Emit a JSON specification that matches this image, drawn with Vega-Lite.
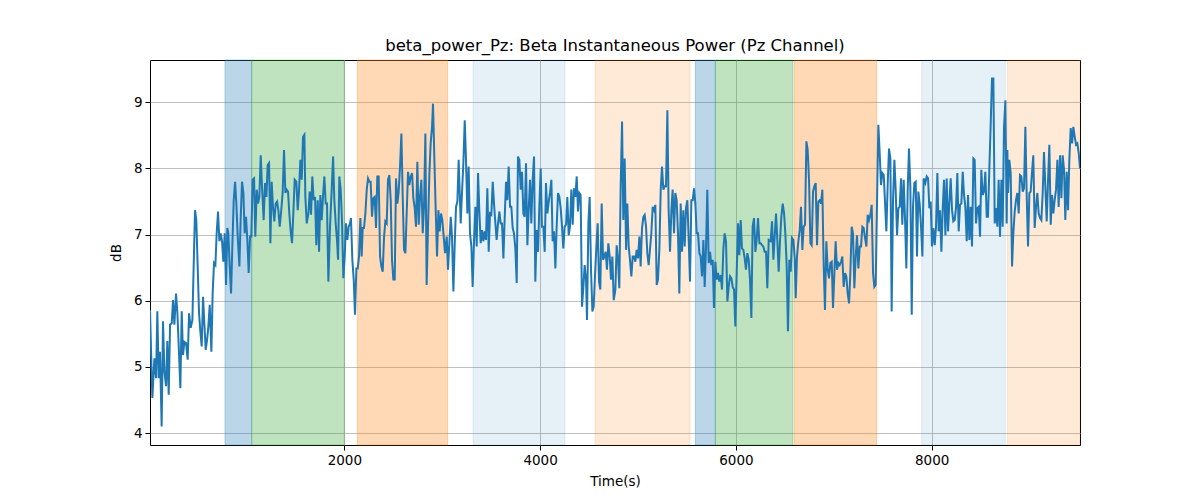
{
  "$schema": "https://vega.github.io/schema/vega-lite/v6.json",
  "description": "Beta instantaneous power on the Pz channel with shaded event periods.",
  "width": 930,
  "height": 385,
  "autosize": {"type": "none"},
  "padding": {"left": 150, "top": 60, "right": 120, "bottom": 55},
  "background": "white",
  "config": {
    "font": "DejaVu Sans",
    "view": {"stroke": "black", "strokeWidth": 1},
    "axis": {
      "domain": false,
      "grid": true,
      "gridColor": "#b0b0b0",
      "gridWidth": 0.8,
      "tickColor": "black",
      "tickSize": 5,
      "tickWidth": 1,
      "labelFont": "DejaVu Sans",
      "labelFontSize": 13.5,
      "labelColor": "black",
      "labelPadding": 3,
      "titleFont": "DejaVu Sans",
      "titleFontSize": 13.5,
      "titleFontWeight": "normal",
      "titleColor": "black"
    }
  },
  "title": {
    "text": "beta_power_Pz: Beta Instantaneous Power (Pz Channel)",
    "font": "DejaVu Sans",
    "fontSize": 16.5,
    "fontWeight": "normal",
    "color": "black",
    "anchor": "middle",
    "offset": 5
  },
  "datasets": {
    "bands": [
      {"start": 781, "end": 1054, "period": "blue"},
      {"start": 1054, "end": 2000, "period": "green"},
      {"start": 2133, "end": 3056, "period": "orange"},
      {"start": 3315, "end": 4254, "period": "lightblue"},
      {"start": 4561, "end": 5531, "period": "lightorange"},
      {"start": 5586, "end": 5790, "period": "blue"},
      {"start": 5790, "end": 6583, "period": "green"},
      {"start": 6597, "end": 7438, "period": "orange"},
      {"start": 7898, "end": 8752, "period": "lightblue"},
      {"start": 8773, "end": 9515, "period": "lightorange"}
    ],
    "power": [
      {"t":15,"db":5.86},{"t":39,"db":4.53},{"t":60,"db":5.13},{"t":77,"db":4.83},{"t":90,"db":5.84},{"t":104,"db":4.83},{"t":117,"db":5.23},{"t":134,"db":4.10},{"t":148,"db":5.69},{"t":162,"db":4.93},
      {"t":179,"db":4.71},{"t":192,"db":5.39},{"t":206,"db":4.58},{"t":220,"db":5.64},{"t":237,"db":5.66},{"t":250,"db":6.01},{"t":264,"db":5.64},{"t":281,"db":6.11},{"t":295,"db":5.81},{"t":312,"db":5.18},
      {"t":325,"db":4.68},{"t":339,"db":5.84},{"t":352,"db":5.18},{"t":366,"db":5.38},{"t":383,"db":5.36},{"t":400,"db":5.11},{"t":414,"db":5.81},{"t":431,"db":5.59},{"t":448,"db":5.71},{"t":461,"db":6.52},
      {"t":475,"db":7.37},{"t":488,"db":7.22},{"t":502,"db":6.52},{"t":516,"db":5.81},{"t":529,"db":5.54},{"t":543,"db":5.31},{"t":557,"db":6.06},{"t":570,"db":5.66},{"t":584,"db":5.26},{"t":598,"db":5.41},
      {"t":611,"db":5.61},{"t":625,"db":5.94},{"t":642,"db":5.23},{"t":655,"db":6.11},{"t":669,"db":6.57},{"t":683,"db":6.54},{"t":696,"db":7.02},{"t":710,"db":7.35},{"t":724,"db":6.90},{"t":737,"db":7.02},
      {"t":751,"db":6.90},{"t":764,"db":6.59},{"t":778,"db":7.02},{"t":792,"db":6.24},{"t":805,"db":7.10},{"t":815,"db":7.02},{"t":829,"db":6.52},{"t":843,"db":6.11},{"t":856,"db":6.82},{"t":870,"db":7.52},
      {"t":884,"db":7.80},{"t":897,"db":7.47},{"t":911,"db":6.97},{"t":928,"db":6.52},{"t":941,"db":7.22},{"t":955,"db":7.80},{"t":969,"db":7.63},{"t":982,"db":7.02},{"t":996,"db":7.27},{"t":1010,"db":6.90},
      {"t":1023,"db":6.42},{"t":1037,"db":6.97},{"t":1050,"db":6.97},{"t":1064,"db":7.83},{"t":1078,"db":7.85},{"t":1091,"db":6.97},{"t":1105,"db":7.68},{"t":1119,"db":7.47},{"t":1132,"db":7.57},{"t":1146,"db":8.20},
      {"t":1159,"db":7.73},{"t":1176,"db":7.22},{"t":1190,"db":7.78},{"t":1204,"db":7.57},{"t":1217,"db":8.05},{"t":1231,"db":8.08},{"t":1245,"db":6.87},{"t":1258,"db":7.80},{"t":1272,"db":7.40},{"t":1285,"db":7.20},
      {"t":1299,"db":7.47},{"t":1313,"db":7.50},{"t":1326,"db":7.37},{"t":1340,"db":7.12},{"t":1353,"db":7.32},{"t":1370,"db":7.63},{"t":1384,"db":8.28},{"t":1398,"db":7.63},{"t":1411,"db":7.68},{"t":1425,"db":7.65},
      {"t":1438,"db":7.32},{"t":1452,"db":7.05},{"t":1466,"db":6.87},{"t":1479,"db":7.32},{"t":1493,"db":7.83},{"t":1510,"db":7.80},{"t":1524,"db":7.37},{"t":1537,"db":7.65},{"t":1551,"db":8.13},{"t":1565,"db":7.83},
      {"t":1578,"db":8.48},{"t":1592,"db":8.51},{"t":1602,"db":7.57},{"t":1616,"db":7.17},{"t":1633,"db":7.32},{"t":1646,"db":7.65},{"t":1660,"db":7.30},{"t":1673,"db":7.88},{"t":1687,"db":7.52},{"t":1701,"db":7.57},
      {"t":1714,"db":6.84},{"t":1728,"db":7.52},{"t":1742,"db":6.74},{"t":1755,"db":7.60},{"t":1769,"db":7.22},{"t":1782,"db":7.57},{"t":1796,"db":7.88},{"t":1810,"db":7.47},{"t":1823,"db":7.47},{"t":1837,"db":6.29},
      {"t":1854,"db":7.12},{"t":1871,"db":7.68},{"t":1885,"db":8.18},{"t":1898,"db":7.52},{"t":1912,"db":7.17},{"t":1925,"db":6.92},{"t":1936,"db":6.62},{"t":1949,"db":7.88},{"t":1963,"db":7.68},{"t":1977,"db":7.17},
      {"t":1990,"db":6.34},{"t":2004,"db":6.67},{"t":2017,"db":7.17},{"t":2031,"db":6.92},{"t":2045,"db":7.12},{"t":2058,"db":7.17},{"t":2068,"db":7.25},{"t":2082,"db":6.62},{"t":2096,"db":6.32},{"t":2109,"db":5.79},
      {"t":2123,"db":6.49},{"t":2137,"db":6.49},{"t":2150,"db":6.67},{"t":2164,"db":7.25},{"t":2177,"db":6.67},{"t":2188,"db":7.10},{"t":2201,"db":7.10},{"t":2215,"db":7.32},{"t":2229,"db":7.68},{"t":2242,"db":7.85},
      {"t":2256,"db":7.80},{"t":2269,"db":7.80},{"t":2283,"db":7.27},{"t":2297,"db":7.55},{"t":2310,"db":7.57},{"t":2324,"db":7.10},{"t":2337,"db":7.88},{"t":2351,"db":7.88},{"t":2365,"db":6.67},{"t":2378,"db":6.52},
      {"t":2392,"db":6.44},{"t":2406,"db":6.97},{"t":2419,"db":7.20},{"t":2433,"db":7.17},{"t":2446,"db":7.83},{"t":2460,"db":7.90},{"t":2474,"db":7.52},{"t":2487,"db":6.62},{"t":2501,"db":6.32},{"t":2515,"db":6.32},
      {"t":2528,"db":7.85},{"t":2542,"db":7.47},{"t":2555,"db":7.65},{"t":2569,"db":8.03},{"t":2583,"db":8.53},{"t":2596,"db":7.60},{"t":2610,"db":6.77},{"t":2624,"db":6.72},{"t":2637,"db":7.32},{"t":2651,"db":7.95},
      {"t":2664,"db":7.75},{"t":2678,"db":7.88},{"t":2692,"db":7.93},{"t":2705,"db":7.55},{"t":2719,"db":7.40},{"t":2732,"db":7.12},{"t":2746,"db":8.10},{"t":2760,"db":7.15},{"t":2773,"db":7.57},{"t":2787,"db":7.83},
      {"t":2801,"db":7.02},{"t":2814,"db":7.42},{"t":2828,"db":8.53},{"t":2841,"db":6.24},{"t":2855,"db":7.12},{"t":2869,"db":7.93},{"t":2882,"db":8.38},{"t":2896,"db":8.63},{"t":2906,"db":8.98},{"t":2920,"db":8.13},
      {"t":2933,"db":7.40},{"t":2947,"db":6.67},{"t":2961,"db":7.37},{"t":2974,"db":7.05},{"t":2988,"db":7.32},{"t":3001,"db":7.22},{"t":3015,"db":6.97},{"t":3029,"db":6.72},{"t":3046,"db":6.97},{"t":3059,"db":6.47},
      {"t":3073,"db":6.87},{"t":3087,"db":7.27},{"t":3100,"db":6.97},{"t":3114,"db":6.14},{"t":3127,"db":6.82},{"t":3141,"db":7.42},{"t":3155,"db":7.50},{"t":3168,"db":8.13},{"t":3189,"db":7.17},{"t":3202,"db":7.63},
      {"t":3216,"db":8.08},{"t":3230,"db":8.73},{"t":3243,"db":8.13},{"t":3257,"db":7.32},{"t":3270,"db":8.03},{"t":3284,"db":7.02},{"t":3298,"db":6.82},{"t":3311,"db":6.21},{"t":3325,"db":6.92},{"t":3339,"db":7.42},
      {"t":3352,"db":6.82},{"t":3366,"db":7.93},{"t":3379,"db":7.37},{"t":3393,"db":6.87},{"t":3407,"db":7.07},{"t":3420,"db":6.90},{"t":3434,"db":7.05},{"t":3447,"db":6.92},{"t":3461,"db":7.70},{"t":3475,"db":6.74},
      {"t":3488,"db":7.32},{"t":3502,"db":7.30},{"t":3516,"db":7.80},{"t":3529,"db":7.47},{"t":3543,"db":7.17},{"t":3556,"db":6.92},{"t":3570,"db":7.17},{"t":3584,"db":7.35},{"t":3597,"db":7.17},{"t":3611,"db":7.17},
      {"t":3625,"db":6.64},{"t":3638,"db":7.25},{"t":3652,"db":7.80},{"t":3665,"db":7.52},{"t":3679,"db":8.03},{"t":3693,"db":7.42},{"t":3706,"db":7.42},{"t":3720,"db":7.10},{"t":3733,"db":7.02},{"t":3747,"db":6.79},
      {"t":3761,"db":6.27},{"t":3774,"db":8.18},{"t":3788,"db":8.13},{"t":3802,"db":7.68},{"t":3815,"db":7.95},{"t":3829,"db":7.32},{"t":3842,"db":7.27},{"t":3856,"db":8.08},{"t":3870,"db":6.84},{"t":3883,"db":7.37},
      {"t":3897,"db":7.83},{"t":3910,"db":7.17},{"t":3924,"db":7.83},{"t":3938,"db":8.18},{"t":3951,"db":6.29},{"t":3965,"db":7.07},{"t":3979,"db":6.74},{"t":3992,"db":7.42},{"t":4006,"db":8.00},{"t":4019,"db":7.12},
      {"t":4033,"db":7.12},{"t":4047,"db":6.74},{"t":4060,"db":7.78},{"t":4074,"db":7.32},{"t":4088,"db":7.50},{"t":4101,"db":7.63},{"t":4115,"db":7.83},{"t":4128,"db":6.90},{"t":4142,"db":7.05},{"t":4156,"db":6.49},
      {"t":4169,"db":7.12},{"t":4183,"db":7.63},{"t":4197,"db":7.57},{"t":4210,"db":7.40},{"t":4224,"db":7.12},{"t":4237,"db":6.79},{"t":4251,"db":7.12},{"t":4265,"db":7.15},{"t":4278,"db":7.57},{"t":4292,"db":6.99},
      {"t":4305,"db":7.12},{"t":4319,"db":7.68},{"t":4333,"db":7.15},{"t":4346,"db":7.70},{"t":4360,"db":7.57},{"t":4374,"db":7.88},{"t":4387,"db":7.35},{"t":4401,"db":7.63},{"t":4414,"db":7.60},{"t":4428,"db":5.91},
      {"t":4442,"db":6.21},{"t":4455,"db":6.54},{"t":4469,"db":6.32},{"t":4479,"db":5.71},{"t":4493,"db":7.17},{"t":4506,"db":7.57},{"t":4520,"db":6.47},{"t":4534,"db":5.84},{"t":4547,"db":5.91},{"t":4561,"db":6.39},
      {"t":4575,"db":6.82},{"t":4588,"db":7.17},{"t":4602,"db":6.29},{"t":4615,"db":6.17},{"t":4629,"db":7.47},{"t":4643,"db":6.62},{"t":4656,"db":6.67},{"t":4670,"db":6.74},{"t":4683,"db":6.47},{"t":4697,"db":6.87},
      {"t":4711,"db":6.67},{"t":4724,"db":6.32},{"t":4738,"db":6.67},{"t":4752,"db":6.01},{"t":4769,"db":6.17},{"t":4782,"db":6.84},{"t":4796,"db":6.62},{"t":4809,"db":6.19},{"t":4823,"db":7.73},{"t":4837,"db":8.71},
      {"t":4850,"db":7.22},{"t":4864,"db":8.15},{"t":4878,"db":6.77},{"t":4891,"db":7.47},{"t":4905,"db":6.82},{"t":4918,"db":6.62},{"t":4932,"db":6.37},{"t":4946,"db":6.67},{"t":4959,"db":6.67},{"t":4973,"db":6.59},
      {"t":4986,"db":6.77},{"t":5000,"db":6.64},{"t":5014,"db":6.97},{"t":5027,"db":6.52},{"t":5041,"db":7.10},{"t":5055,"db":7.27},{"t":5068,"db":7.30},{"t":5082,"db":7.12},{"t":5095,"db":6.72},{"t":5109,"db":6.54},
      {"t":5123,"db":6.79},{"t":5136,"db":7.02},{"t":5150,"db":7.42},{"t":5164,"db":7.37},{"t":5177,"db":7.45},{"t":5191,"db":6.24},{"t":5204,"db":6.32},{"t":5218,"db":6.77},{"t":5232,"db":7.68},{"t":5245,"db":8.03},
      {"t":5259,"db":7.68},{"t":5273,"db":7.73},{"t":5286,"db":7.73},{"t":5300,"db":8.88},{"t":5313,"db":7.37},{"t":5327,"db":6.74},{"t":5341,"db":7.37},{"t":5354,"db":7.68},{"t":5368,"db":7.02},{"t":5381,"db":7.63},
      {"t":5395,"db":7.52},{"t":5409,"db":6.99},{"t":5422,"db":6.11},{"t":5436,"db":7.47},{"t":5450,"db":6.74},{"t":5463,"db":7.37},{"t":5477,"db":6.82},{"t":5490,"db":7.40},{"t":5504,"db":7.52},{"t":5518,"db":6.92},
      {"t":5531,"db":6.29},{"t":5545,"db":7.52},{"t":5559,"db":7.52},{"t":5572,"db":7.70},{"t":5586,"db":7.47},{"t":5599,"db":7.02},{"t":5613,"db":7.02},{"t":5627,"db":6.72},{"t":5640,"db":6.67},{"t":5654,"db":6.37},
      {"t":5668,"db":6.92},{"t":5681,"db":6.21},{"t":5695,"db":6.82},{"t":5708,"db":7.68},{"t":5722,"db":6.57},{"t":5736,"db":6.74},{"t":5749,"db":6.54},{"t":5763,"db":6.62},{"t":5776,"db":5.89},{"t":5790,"db":6.59},
      {"t":5804,"db":6.32},{"t":5817,"db":6.42},{"t":5831,"db":6.29},{"t":5845,"db":6.39},{"t":5858,"db":6.17},{"t":5872,"db":6.79},{"t":5885,"db":7.02},{"t":5899,"db":6.90},{"t":5913,"db":5.99},{"t":5926,"db":6.21},
      {"t":5940,"db":6.37},{"t":5954,"db":6.34},{"t":5967,"db":6.21},{"t":5981,"db":6.17},{"t":5994,"db":5.61},{"t":6008,"db":6.42},{"t":6022,"db":7.17},{"t":6035,"db":6.69},{"t":6049,"db":7.22},{"t":6062,"db":6.79},
      {"t":6076,"db":6.77},{"t":6090,"db":6.64},{"t":6103,"db":6.47},{"t":6117,"db":6.72},{"t":6131,"db":6.62},{"t":6144,"db":6.32},{"t":6158,"db":5.74},{"t":6171,"db":7.12},{"t":6185,"db":7.25},{"t":6199,"db":6.74},
      {"t":6212,"db":6.92},{"t":6226,"db":7.25},{"t":6240,"db":6.87},{"t":6253,"db":6.87},{"t":6267,"db":6.84},{"t":6280,"db":6.82},{"t":6294,"db":6.74},{"t":6308,"db":6.74},{"t":6321,"db":6.19},{"t":6335,"db":6.92},
      {"t":6355,"db":6.90},{"t":6369,"db":7.20},{"t":6383,"db":6.62},{"t":6396,"db":6.97},{"t":6410,"db":7.32},{"t":6423,"db":6.92},{"t":6437,"db":6.44},{"t":6451,"db":6.92},{"t":6464,"db":7.27},{"t":6478,"db":7.47},
      {"t":6492,"db":7.32},{"t":6505,"db":7.02},{"t":6519,"db":6.52},{"t":6532,"db":5.54},{"t":6546,"db":6.62},{"t":6560,"db":6.44},{"t":6573,"db":6.95},{"t":6587,"db":6.92},{"t":6601,"db":6.64},{"t":6611,"db":6.04},
      {"t":6624,"db":6.67},{"t":6638,"db":6.90},{"t":6652,"db":7.07},{"t":6665,"db":7.42},{"t":6679,"db":6.77},{"t":6692,"db":7.12},{"t":6706,"db":7.15},{"t":6720,"db":8.41},{"t":6733,"db":8.28},{"t":6747,"db":7.83},
      {"t":6761,"db":6.87},{"t":6774,"db":6.84},{"t":6788,"db":7.65},{"t":6801,"db":7.73},{"t":6815,"db":7.78},{"t":6829,"db":6.84},{"t":6842,"db":7.50},{"t":6856,"db":7.52},{"t":6870,"db":7.47},{"t":6883,"db":7.68},
      {"t":6897,"db":6.52},{"t":6910,"db":5.86},{"t":6924,"db":6.90},{"t":6938,"db":6.47},{"t":6951,"db":6.34},{"t":6965,"db":6.57},{"t":6979,"db":6.59},{"t":6992,"db":5.89},{"t":7006,"db":6.42},{"t":7019,"db":6.90},
      {"t":7033,"db":6.47},{"t":7047,"db":6.57},{"t":7060,"db":6.54},{"t":7074,"db":6.59},{"t":7087,"db":6.67},{"t":7101,"db":6.21},{"t":7115,"db":6.42},{"t":7128,"db":6.37},{"t":7142,"db":6.11},{"t":7156,"db":5.96},
      {"t":7169,"db":6.42},{"t":7183,"db":7.12},{"t":7196,"db":7.02},{"t":7210,"db":6.19},{"t":7224,"db":6.67},{"t":7237,"db":6.99},{"t":7251,"db":6.49},{"t":7265,"db":6.82},{"t":7278,"db":6.82},{"t":7292,"db":7.12},
      {"t":7305,"db":7.10},{"t":7319,"db":6.95},{"t":7333,"db":6.82},{"t":7346,"db":7.30},{"t":7360,"db":7.22},{"t":7374,"db":7.30},{"t":7387,"db":7.45},{"t":7401,"db":6.42},{"t":7414,"db":6.21},{"t":7428,"db":6.24},
      {"t":7442,"db":7.52},{"t":7455,"db":8.66},{"t":7469,"db":8.23},{"t":7482,"db":7.75},{"t":7496,"db":7.93},{"t":7510,"db":7.90},{"t":7523,"db":7.50},{"t":7537,"db":7.05},{"t":7551,"db":7.78},{"t":7564,"db":8.30},
      {"t":7578,"db":8.15},{"t":7591,"db":5.84},{"t":7605,"db":7.52},{"t":7619,"db":8.13},{"t":7632,"db":7.68},{"t":7646,"db":6.99},{"t":7660,"db":7.40},{"t":7673,"db":7.42},{"t":7687,"db":7.85},{"t":7700,"db":7.15},
      {"t":7714,"db":7.83},{"t":7728,"db":7.22},{"t":7741,"db":6.49},{"t":7755,"db":7.68},{"t":7768,"db":8.30},{"t":7782,"db":7.73},{"t":7796,"db":5.79},{"t":7809,"db":7.42},{"t":7823,"db":7.78},{"t":7837,"db":7.80},
      {"t":7850,"db":6.67},{"t":7864,"db":7.65},{"t":7877,"db":7.47},{"t":7891,"db":7.12},{"t":7905,"db":6.67},{"t":7918,"db":7.85},{"t":7935,"db":7.78},{"t":7949,"db":7.88},{"t":7963,"db":7.85},{"t":7976,"db":7.40},
      {"t":7990,"db":7.50},{"t":8003,"db":6.82},{"t":8017,"db":7.10},{"t":8031,"db":6.84},{"t":8044,"db":7.12},{"t":8058,"db":7.93},{"t":8071,"db":7.05},{"t":8085,"db":7.37},{"t":8099,"db":6.74},{"t":8112,"db":7.37},
      {"t":8126,"db":7.83},{"t":8140,"db":6.99},{"t":8153,"db":7.85},{"t":8167,"db":7.05},{"t":8180,"db":7.47},{"t":8194,"db":7.85},{"t":8208,"db":7.37},{"t":8221,"db":7.20},{"t":8235,"db":7.22},{"t":8249,"db":7.42},
      {"t":8262,"db":7.93},{"t":8276,"db":7.05},{"t":8289,"db":7.45},{"t":8303,"db":7.47},{"t":8317,"db":7.95},{"t":8330,"db":7.60},{"t":8344,"db":7.42},{"t":8358,"db":6.90},{"t":8371,"db":7.60},{"t":8385,"db":6.92},
      {"t":8398,"db":7.42},{"t":8412,"db":6.82},{"t":8426,"db":8.15},{"t":8439,"db":8.13},{"t":8453,"db":7.17},{"t":8466,"db":7.40},{"t":8480,"db":7.42},{"t":8494,"db":6.97},{"t":8507,"db":7.98},{"t":8521,"db":7.60},
      {"t":8535,"db":7.65},{"t":8548,"db":7.95},{"t":8562,"db":7.27},{"t":8575,"db":7.27},{"t":8589,"db":8.00},{"t":8603,"db":8.68},{"t":8616,"db":9.36},{"t":8630,"db":9.36},{"t":8644,"db":7.17},{"t":8657,"db":7.40},
      {"t":8671,"db":7.12},{"t":8684,"db":7.83},{"t":8698,"db":6.97},{"t":8712,"db":7.83},{"t":8725,"db":7.12},{"t":8739,"db":8.63},{"t":8753,"db":9.03},{"t":8766,"db":7.17},{"t":8773,"db":8.28},{"t":8780,"db":7.63},
      {"t":8793,"db":8.13},{"t":8807,"db":7.93},{"t":8821,"db":6.52},{"t":8834,"db":7.02},{"t":8848,"db":7.35},{"t":8861,"db":7.52},{"t":8875,"db":7.63},{"t":8889,"db":7.32},{"t":8902,"db":7.90},{"t":8916,"db":7.88},
      {"t":8930,"db":7.65},{"t":8943,"db":7.70},{"t":8957,"db":8.63},{"t":8970,"db":7.63},{"t":8984,"db":6.82},{"t":8998,"db":7.63},{"t":9011,"db":7.65},{"t":9025,"db":7.95},{"t":9038,"db":8.20},{"t":9052,"db":7.10},
      {"t":9066,"db":7.42},{"t":9079,"db":7.63},{"t":9093,"db":7.32},{"t":9107,"db":7.25},{"t":9120,"db":7.22},{"t":9134,"db":7.63},{"t":9147,"db":8.25},{"t":9161,"db":7.73},{"t":9175,"db":7.20},{"t":9188,"db":7.80},
      {"t":9202,"db":8.36},{"t":9216,"db":7.15},{"t":9229,"db":7.60},{"t":9243,"db":7.32},{"t":9256,"db":7.52},{"t":9270,"db":7.68},{"t":9284,"db":8.13},{"t":9297,"db":7.42},{"t":9311,"db":8.20},{"t":9325,"db":7.55},
      {"t":9338,"db":8.20},{"t":9352,"db":7.98},{"t":9365,"db":7.22},{"t":9379,"db":7.95},{"t":9393,"db":7.37},{"t":9406,"db":8.13},{"t":9420,"db":8.61},{"t":9434,"db":8.38},{"t":9447,"db":8.63},{"t":9461,"db":8.48},
      {"t":9474,"db":8.36},{"t":9488,"db":8.38},{"t":9502,"db":8.23},{"t":9515,"db":8.00}
    ]
  },
  "layer": [
    {
      "data": {"name": "bands"},
      "mark": {"type": "rect", "strokeWidth": 1},
      "encoding": {
        "x": {"field": "start", "type": "quantitative"},
        "x2": {"field": "end"},
        "y": {"value": 0},
        "y2": {"value": 385},
        "fill": {
          "field": "period",
          "type": "nominal",
          "legend": null,
          "scale": {
            "domain": ["blue", "green", "orange", "lightblue", "lightorange"],
            "range": ["rgba(31,119,180,0.3)", "rgba(44,160,44,0.3)", "rgba(255,127,14,0.3)", "rgba(31,119,180,0.11)", "rgba(255,127,14,0.16)"]
          }
        },
        "stroke": {
          "field": "period",
          "type": "nominal",
          "legend": null,
          "scale": {
            "domain": ["blue", "green", "orange", "lightblue", "lightorange"],
            "range": ["rgba(31,119,180,0.3)", "rgba(44,160,44,0.3)", "rgba(255,127,14,0.3)", "rgba(31,119,180,0.11)", "rgba(255,127,14,0.16)"]
          }
        }
      }
    },
    {
      "data": {"name": "power"},
      "mark": {"type": "line", "color": "#1f77b4", "strokeWidth": 2, "clip": true},
      "encoding": {
        "x": {
          "field": "t",
          "type": "quantitative",
          "title": "Time(s)",
          "scale": {"domain": [15, 9515], "nice": false, "zero": false},
          "axis": {"values": [2000, 4000, 6000, 8000], "format": "d", "titlePadding": 8}
        },
        "y": {
          "field": "db",
          "type": "quantitative",
          "title": "dB",
          "scale": {"domain": [3.82, 9.64], "nice": false, "zero": false},
          "axis": {"values": [4, 5, 6, 7, 8, 9], "format": "d", "titlePadding": 10}
        }
      }
    }
  ]
}
